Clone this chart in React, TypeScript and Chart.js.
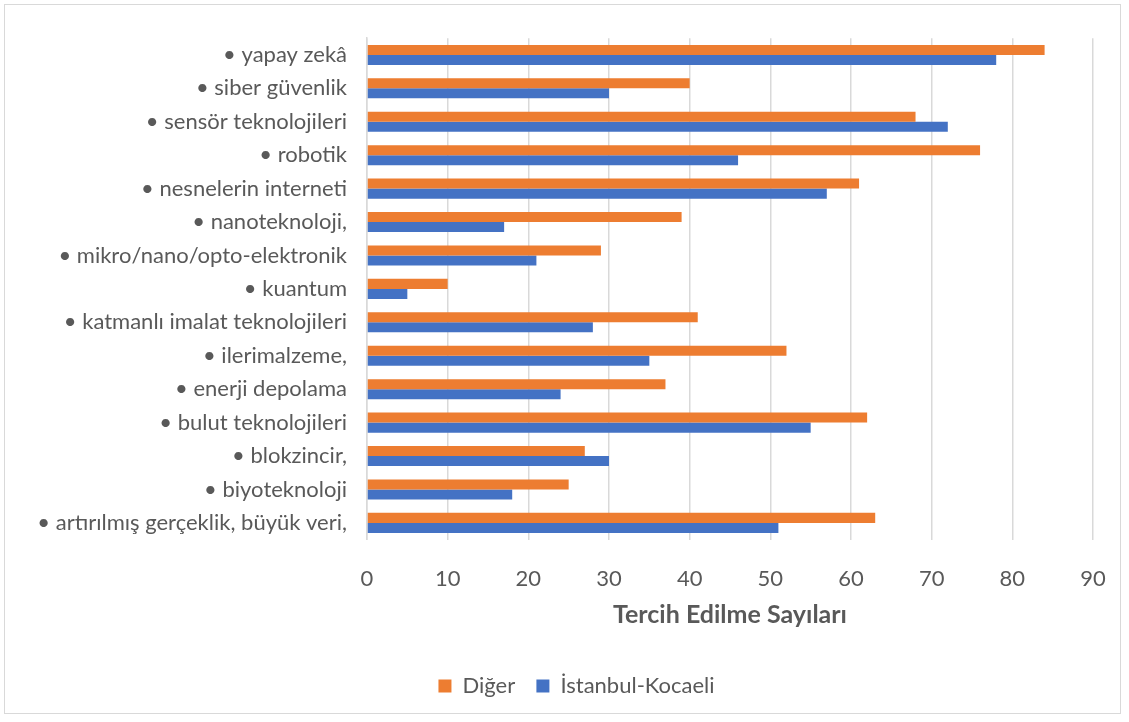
import React, { useEffect, useRef } from "react";
import { Chart, registerables } from "chart.js";

Chart.register(...registerables);

const categories = [
  "• yapay zekâ",
  "• siber güvenlik",
  "• sensör teknolojileri",
  "• robotik",
  "• nesnelerin interneti",
  "• nanoteknoloji,",
  "• mikro/nano/opto-elektronik",
  "• kuantum",
  "• katmanlı imalat teknolojileri",
  "• ilerimalzeme,",
  "• enerji depolama",
  "• bulut teknolojileri",
  "• blokzincir,",
  "• biyoteknoloji",
  "• artırılmış gerçeklik, büyük veri,",
];

const digerValues = [84, 40, 68, 76, 61, 39, 29, 10, 41, 52, 37, 62, 27, 25, 63];
const istanbulValues = [78, 30, 72, 46, 57, 17, 21, 5, 28, 35, 24, 55, 30, 18, 51];

const seriesNames = ["Diğer", "İstanbul-Kocaeli"];
const axisTitle = "Tercih Edilme Sayıları";

const FONT = "Lato, 'Open Sans', sans-serif";
const TEXT = "#595959";

const shiftLegend = {
  id: "shiftLegend",
  afterLayout(chart: any) {
    if (chart.legend) {
      chart.legend.left += 13;
      chart.legend.right += 13;
    }
  },
};

export default function App() {
  const ref = useRef<HTMLCanvasElement | null>(null);
  useEffect(() => {
    if (!ref.current) return;
    const chart = new Chart(ref.current, {
      type: "bar",
      data: {
        labels: categories,
        datasets: [
          {
            label: seriesNames[0],
            data: digerValues,
            backgroundColor: "#ED7D31",
            categoryPercentage: 0.6,
            barPercentage: 1.0,
          },
          {
            label: seriesNames[1],
            data: istanbulValues,
            backgroundColor: "#4472C4",
            categoryPercentage: 0.6,
            barPercentage: 1.0,
          },
        ],
      },
      plugins: [shiftLegend],
      options: {
        indexAxis: "y",
        animation: false,
        responsive: false,
        maintainAspectRatio: false,
        layout: { padding: { top: 30, right: 8, left: 10, bottom: 6 } },
        plugins: {
          tooltip: { enabled: false },
          legend: {
            position: "bottom",
            labels: {
              color: TEXT,
              font: { family: FONT, size: 22 },
              boxWidth: 13,
              boxHeight: 13,
              padding: 10,
              generateLabels: (chart: any) => {
                const items = Chart.defaults.plugins.legend.labels.generateLabels(chart);
                return items.map((it: any, i: number) =>
                  i === 0 ? { ...it, text: it.text + "  " } : it
                );
              },
            },
            onClick: () => {},
          },
        },
        scales: {
          x: {
            min: 0,
            max: 90,
            ticks: {
              stepSize: 10,
              color: TEXT,
              font: { family: FONT, size: 22 },
              padding: 26,
            },
            grid: { color: "#d9d9d9", lineWidth: 1.5, drawTicks: false },
            border: { display: false },
            title: {
              display: true,
              text: axisTitle,
              color: TEXT,
              font: { family: FONT, size: 25, weight: "bold" },
              padding: { top: -18, bottom: 35 },
            },
            afterFit: (scale: any) => {
              scale.paddingRight = 27;
            },
          },
          y: {
            ticks: {
              color: TEXT,
              font: { family: FONT, size: 22 },
              padding: 20,
            },
            grid: { display: false, drawTicks: false },
            border: { display: true, color: "#d9d9d9", width: 1.5 },
            afterFit: (scale: any) => {
              scale.width = 352;
            },
          },
        },
      },
    });
    return () => chart.destroy();
  }, []);
  return (
    <div
      style={{
        position: "fixed",
        left: 4,
        top: 4,
        width: 1117,
        height: 710,
        border: "1px solid #d9d9d9",
        background: "#fff",
        boxSizing: "border-box",
      }}
    >
      <canvas ref={ref} width={1115} height={708} style={{ display: "block" }} />
    </div>
  );
}
